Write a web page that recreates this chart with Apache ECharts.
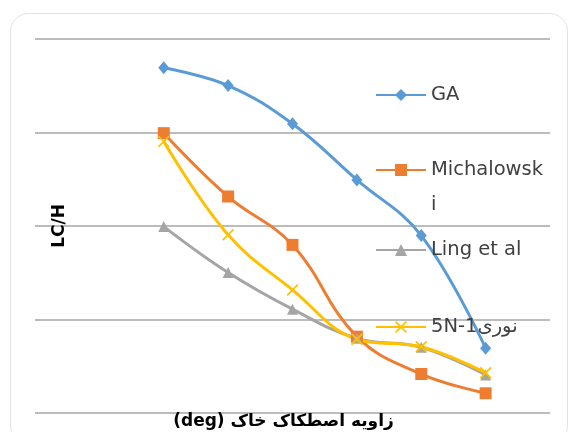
<!DOCTYPE html>
<html>
<head>
<meta charset="utf-8">
<script src="https://cdn.jsdelivr.net/npm/echarts@6/dist/echarts.min.js"></script>
<style>
html,body{margin:0;padding:0;background:#fff;}
#c{width:571px;height:432px;}
</style>
</head>
<body>
<div id="c"></div>
<script>
const frictionAngle = [20, 25, 30, 35, 40, 45];
const gaValues = [1.846, 1.751, 1.546, 1.246, 0.948, 0.345];
const michalowskiValues = [1.496, 1.157, 0.898, 0.407, 0.207, 0.104];
const lingValues = [0.996, 0.750, 0.554, 0.398, 0.350, 0.202];
const nooriValues = [1.451, 0.952, 0.657, 0.393, 0.353, 0.214];
const seriesNames = ['GA', 'Michalowski', 'Ling et al', '5N-1نوری'];
const xAxisTitle = '(deg) زاویه اصطکاک خاک';
const yAxisTitle = 'LC/H';

const pairs = v => frictionAngle.map((x, i) => [x, v[i]]);
const colors = ['#5B9BD5', '#ED7D31', '#A5A5A5', '#FFC000'];
const symbols = ['diamond', 'rect', 'triangle',
  'path://M0,1L1,0L5,4L9,0L10,1L6,5L10,9L9,10L5,6L1,10L0,9L4,5Z'];
const sizes = [[11, 13], 12, 11, 12];
const values = [gaValues, michalowskiValues, lingValues, nooriValues];
const FONT = '"DejaVu Sans", sans-serif';

const legendTops = [77.5, 117.5, 232.5, 309.5];
const legends = seriesNames.map((n, i) => ({
  data: [n],
  orient: 'vertical',
  left: 375,
  top: legendTops[i],
  padding: 0,
  itemWidth: 50,
  itemHeight: 15,
  selectedMode: false,
  formatter: name => name === 'Michalowski' ? '\nMichalowsk\ni' : name,
  textStyle: {fontFamily: FONT, fontSize: 19.5, color: '#404040', lineHeight: 35}
}));

const chart = echarts.init(document.getElementById('c'), null, {renderer: 'canvas'});
chart.setOption({
  backgroundColor: '#ffffff',
  animation: false,
  graphic: [{
    type: 'rect', left: 8, top: 11, z: -1,
    shape: {width: 557, height: 430, r: 18},
    style: {fill: 'none', stroke: '#e3e3e3', lineWidth: 1}
  }],
  grid: {left: 35, right: 21, top: 39, height: 373.7, outerBoundsMode: 'none', containLabel: false},
  legend: legends,
  xAxis: {
    type: 'value', min: 10, max: 50, interval: 5,
    name: xAxisTitle, nameLocation: 'middle', nameGap: 0,
    nameTextStyle: {fontFamily: FONT, fontSize: 17, fontWeight: 'bold', color: '#000', padding: [0, 18, 0, 0]},
    axisLine: {show: false}, axisTick: {show: false}, axisLabel: {show: false},
    splitLine: {show: false}
  },
  yAxis: {
    type: 'value', min: 0, max: 2, interval: 0.5,
    name: yAxisTitle, nameLocation: 'middle', nameGap: -33,
    nameTextStyle: {fontFamily: FONT, fontSize: 17, fontWeight: 'bold', color: '#000'},
    axisLine: {show: false}, axisTick: {show: false}, axisLabel: {show: false},
    splitLine: {lineStyle: {color: '#a6a6a6', width: 1.5}}
  },
  series: seriesNames.map((n, i) => ({
    name: n,
    type: 'line',
    data: pairs(values[i]),
    smooth: 0.4,
    symbol: symbols[i],
    symbolSize: sizes[i],
    showAllSymbol: true,
    lineStyle: {color: colors[i], width: 3},
    itemStyle: {color: colors[i]}
  }))
});
</script>
</body>
</html>
